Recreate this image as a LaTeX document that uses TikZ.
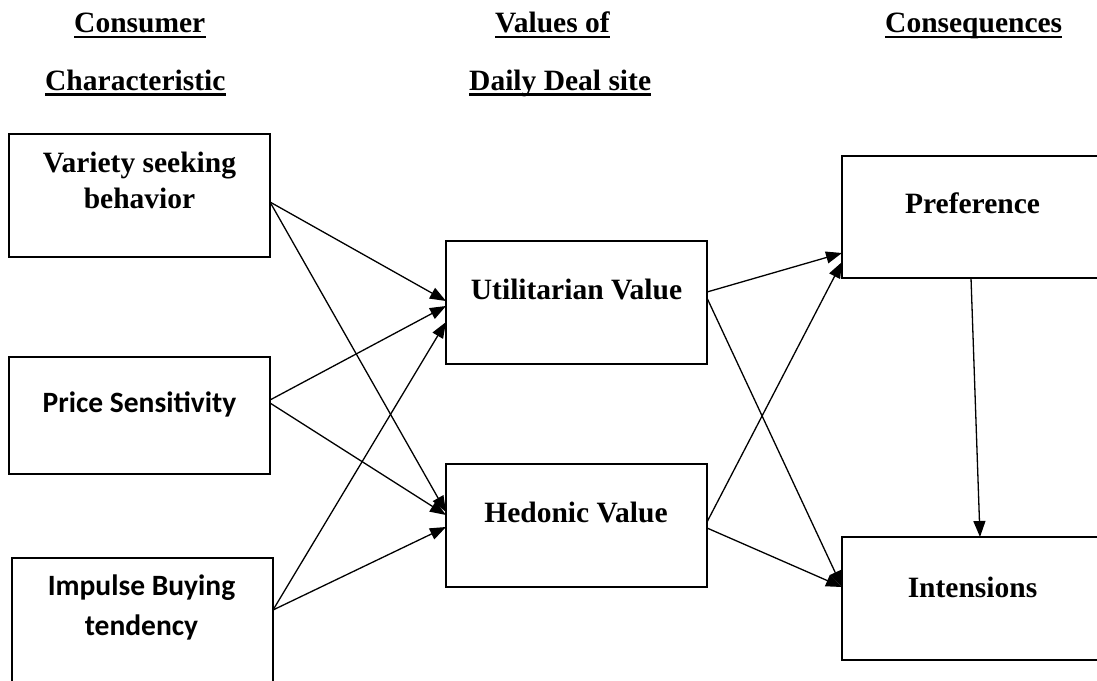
\documentclass[tikz,border=0pt]{standalone}
\usepackage{fontspec}
\setmainfont{Liberation Serif}
\newfontfamily\carlito{Carlito}
\usetikzlibrary{arrows.meta,calc}
\begin{document}
\begin{tikzpicture}[x=1pt,y=-1pt,
  box/.style={draw=black,line width=2.1pt,rectangle,inner sep=0pt,outer sep=0pt},
  lbl/.style={font=\fontsize{29.5}{36}\selectfont\bfseries,inner sep=0pt,anchor=base},
  cal/.style={font=\fontsize{29.5}{36}\selectfont\carlito\bfseries,inner sep=0pt,anchor=base},
  head/.style={font=\fontsize{29.5}{36}\selectfont\bfseries,inner sep=0pt,anchor=base west},
  uline/.style={line width=2.8pt},
  conn/.style={line width=1.3pt,-{Triangle[length=16pt,width=12pt]}}]
\useasboundingbox (0,0) rectangle (1097,680);

% headers
\node[head] (h1) at (74,32.5) {Consumer};
\node[head] (h2) at (45,90) {Characteristic};
\node[head] (h3) at (495,32.5) {Values of~};
\node[head] (h4) at (469,90) {Daily Deal site};
\node[head] (h5) at (885,32.5) {Consequences};
\foreach \h in {h1,h2,h3,h4,h5}
  \draw[uline] ($(\h.base west)+(0,4.5)$) -- ($(\h.base east)+(0,4.5)$);

% boxes
\node[box,minimum width=261pt,minimum height=123pt] (var) at (139.5,195.5) {};
\node[box,minimum width=261pt,minimum height=117pt] (price) at (139.5,415.5) {};
\node[box,minimum width=261pt,minimum height=128pt] (imp) at (142.5,622) {};
\node[box,minimum width=261pt,minimum height=123pt] (util) at (576.5,302.5) {};
\node[box,minimum width=261pt,minimum height=123pt] (hed) at (576.5,525.5) {};
\node[box,minimum width=272pt,minimum height=122pt] (pref) at (978,217) {};
\node[box,minimum width=272pt,minimum height=123pt] (int) at (978,598.5) {};

% box texts
\node[lbl] (var1) at (139.5,172) {Variety seeking};
\node[lbl] (var2) at (139.5,208) {behavior};
\node[cal] (pri1) at (139.5,412) {Price Sensitivity};
\node[cal] (imp1) at (141.5,595) {Impulse Buying};
\node[cal] (imp2) at (141.5,635) {tendency};
\node[lbl] (utl1) at (576.5,299) {Utilitarian Value};
\node[lbl] (hed1) at (576,522) {Hedonic Value};
\node[lbl] (prf1) at (972.5,213) {Preference};
\node[lbl] (int1) at (972.5,597) {Intensions};

% connectors
\draw[conn] ($(var.north east)+(0,68)$) -- ($(util.north west)+(0,60)$);
\draw[conn] ($(var.north east)+(0,68)$) -- ($(hed.north west)+(0,48)$);
\draw[conn] ($(price.north east)+(0,43)$) -- ($(util.north west)+(0,65)$);
\draw[conn] ($(price.north east)+(0,46)$) -- ($(hed.north west)+(0,51)$);
\draw[conn] ($(imp.north east)+(0,52)$) -- ($(util.north west)+(0,81)$);
\draw[conn] ($(imp.north east)+(0,52)$) -- ($(hed.north west)+(0,63)$);
\draw[conn] ($(util.north east)+(0,51)$) -- ($(pref.north west)+(0,97)$);
\draw[conn] ($(util.north east)+(0,57)$) -- ($(int.north west)+(0,50)$);
\draw[conn] ($(hed.north east)+(0,58)$) -- ($(pref.north west)+(0,106)$);
\draw[conn] ($(hed.north east)+(0,64)$) -- ($(int.north west)+(0,50)$);
\draw[conn] ($(pref.south west)+(129,0)$) -- ($(int.north west)+(138,0)$);
\end{tikzpicture}
\end{document}
